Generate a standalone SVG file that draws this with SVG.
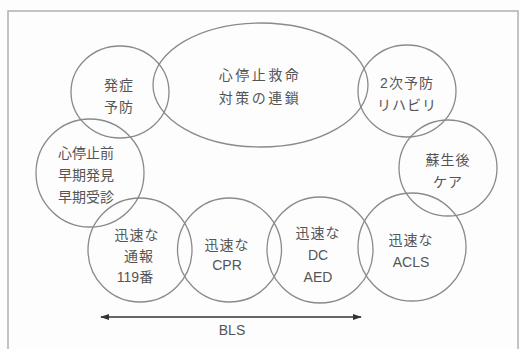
<svg xmlns="http://www.w3.org/2000/svg" width="520" height="349" viewBox="0 0 520 349">
<style>
.c{fill:none;stroke:#8a8a8a;stroke-width:1.3}
.t{font-family:"Liberation Sans","Noto Sans CJK JP",sans-serif;font-size:14px;fill:#555;text-anchor:middle;letter-spacing:1px}
.f{fill:none;stroke:#b0b0b0;stroke-width:1.5}
</style>
<defs>
<marker id="ah" viewBox="0 0 10 10" refX="9" refY="5" markerWidth="7" markerHeight="7" orient="auto-start-reverse">
<path d="M0,1.5 L10,5 L0,8.5 Z" fill="#333"/>
</marker>
</defs>
<rect x="0" y="0" width="520" height="349" fill="#fdfdfd"/>
<rect class="f" x="8" y="11" width="510" height="350"/>
<g id="chain">
<ellipse class="c" cx="260.5" cy="85" rx="107.5" ry="62"/>
<text class="t" x="260" y="80" style="letter-spacing:2.5px">心停止救命</text>
<text class="t" x="260" y="103" style="letter-spacing:2.5px">対策の連鎖</text>
</g>
<g id="prevent">
<ellipse class="c" cx="120" cy="92" rx="49" ry="46"/>
<text class="t" x="119" y="90">発症</text>
<text class="t" x="119" y="112">予防</text>
</g>
<g id="early">
<circle class="c" cx="90" cy="173" r="54"/>
<text class="t" x="86" y="158" style="letter-spacing:0">心停止前</text>
<text class="t" x="86" y="180" style="letter-spacing:0">早期発見</text>
<text class="t" x="86" y="202" style="letter-spacing:0">早期受診</text>
</g>
<g id="secondary">
<ellipse class="c" cx="407" cy="91" rx="49" ry="46"/>
<text class="t" x="407" y="88">2次予防</text>
<text class="t" x="407" y="110">リハビリ</text>
</g>
<g id="postcare">
<ellipse class="c" cx="448" cy="168" rx="49" ry="48"/>
<text class="t" x="448" y="165">蘇生後</text>
<text class="t" x="448" y="187">ケア</text>
</g>
<g id="call">
<circle class="c" cx="140" cy="250" r="52"/>
<text class="t" x="137" y="240">迅速な</text>
<text class="t" x="139" y="261">通報</text>
<text class="t" x="135" y="282" style="letter-spacing:0">119番</text>
</g>
<g id="cpr">
<circle class="c" cx="229.5" cy="250" r="52"/>
<text class="t" x="227" y="250">迅速な</text>
<text class="t" x="227" y="270" style="letter-spacing:0">CPR</text>
</g>
<g id="aed">
<circle class="c" cx="320" cy="250" r="53"/>
<text class="t" x="318" y="238">迅速な</text>
<text class="t" x="318" y="260" style="letter-spacing:0">DC</text>
<text class="t" x="318" y="282" style="letter-spacing:0">AED</text>
</g>
<g id="acls">
<circle class="c" cx="412" cy="247" r="54"/>
<text class="t" x="411" y="245">迅速な</text>
<text class="t" x="411" y="267" style="letter-spacing:0">ACLS</text>
</g>
<g id="connectors">
<line x1="101" y1="317" x2="361" y2="317" stroke="#333" stroke-width="1.3" marker-start="url(#ah)" marker-end="url(#ah)"/>
</g>
<g id="bls">
<text class="t" x="232" y="335" style="letter-spacing:0">BLS</text>
</g>
</svg>
